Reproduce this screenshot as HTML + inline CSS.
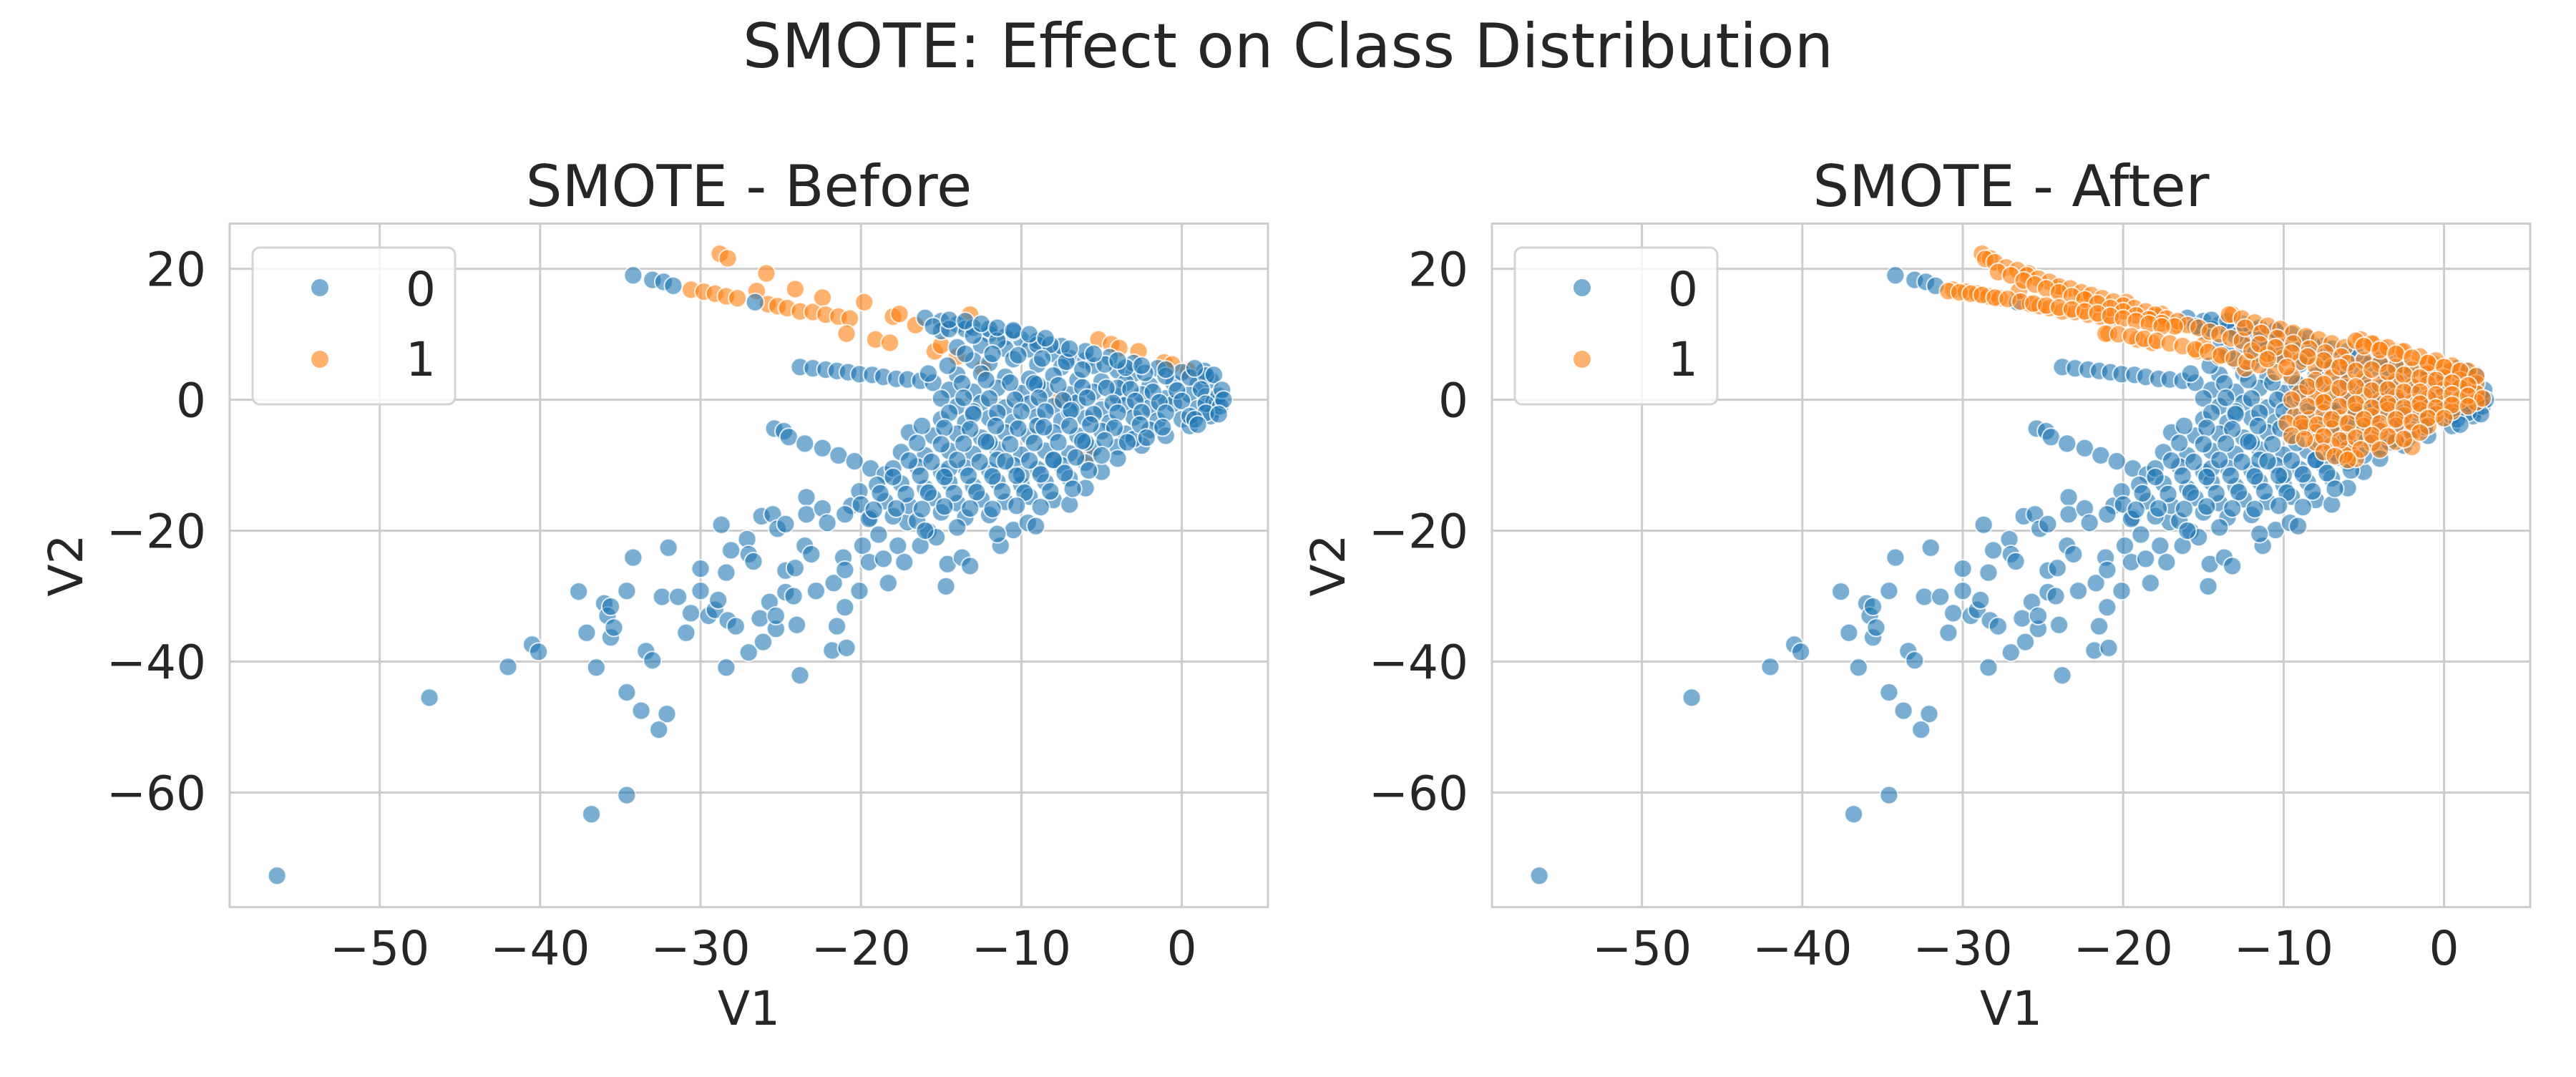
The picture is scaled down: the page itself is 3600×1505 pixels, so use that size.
<!DOCTYPE html>
<html><head><meta charset="utf-8"><style>
html,body{margin:0;padding:0;background:#fff}
svg text{font-family:"DejaVu Sans","Liberation Sans",sans-serif;fill:#262626}
</style></head><body>
<svg id="fig" width="3600" height="1500" viewBox="0 0 3600 1500" xmlns="http://www.w3.org/2000/svg">
<rect width="3600" height="1500" fill="#fff"/>
<text x="1800" y="94" font-size="86" text-anchor="middle">SMOTE: Effect on Class Distribution</text>
</svg>
<script>
// ---- data (V1, V2) ----
const xTicks = [-50, -40, -30, -20, -10, 0];
const yTicks = [20, 0, -20, -40, -60];
const xTickLabels = ["−50", "−40", "−30", "−20", "−10", "0"];
const yTickLabels = ["20", "0", "−20", "−40", "−60"];
const legendLabels = ["0", "1"];

const class0 = [
[-56.4,-72.7],[-46.9,-45.5],[-42.0,-40.8],[-40.5,-37.4],[-40.1,-38.5],[-36.8,-63.3],[-34.6,-60.4],
[-37.6,-29.3],[-37.1,-35.6],[-36.5,-40.9],[-36,-31.1],[-35.8,-33],[-35.6,-36.3],[-35.4,-34.8],[-35.6,-31.6],
[-34.6,-29.2],[-34.2,-24.1],[-34.6,-44.7],[-33.7,-47.5],[-32.1,-48],[-32.6,-50.4],[-33.4,-38.4],[-33,-39.8],
[-32,-22.6],[-32.4,-30.1],[-31.4,-30.1],[-30.9,-35.6],[-30.6,-32.6],[-30,-25.8],[-30,-29.2],[-29.5,-33],[-29.1,-32.1],[-28.9,-30.6],
[-28.7,-19.1],[-28.4,-26.4],[-28.1,-23],[-28.3,-33.7],[-27.8,-34.6],[-28.4,-40.9],[-27.1,-21.3],[-27,-23.6],[-26.7,-24.7],[-27,-38.6],[-26.1,-37],
[-26.3,-33.4],[-25.7,-30.9],[-25.3,-35],[-25.3,-33],[-26.2,-17.8],[-25.5,-17.5],[-25.2,-19.7],[-24.7,-19],
[-24.7,-26.1],[-24.7,-29.4],[-24.2,-30],[-24,-34.4],[-23.8,-42.1],[-24.1,-25.7],[-23.4,-14.9],[-23.4,-17.5],[-23.5,-22.3],[-23.1,-23.6],[-22.8,-29.2],
[-22.4,-16.6],[-22.1,-18.8],[-21.7,-28],[-21.5,-34.6],[-21.8,-38.3],[-20.9,-37.9],[-21,-31.7],[-21.1,-24.1],[-21,-26],[-20.6,-16.2],[-20.1,-14],
[-20.1,-29.2],[-19.9,-22.3],[-19.5,-24.8],[-19.4,-18],[-18.9,-20.6],[-18.3,-28],[-18.6,-24.3],[-17.7,-22.3],[-17.3,-24.8],[-17.1,-18.7],
[-16.3,-22.3],[-15.8,-20.1],[-15.3,-21],[-14.6,-25.1],[-14.7,-28.5],[-13.7,-24.1],[-13.2,-25.4],[-11.3,-22.3],[-10.5,-19.9],[-9.6,-18.8],[-9.1,-19.3],
[-25.4,-4.4],[-24.8,-4.8],[-24.5,-5.7],[-23.5,-6.7],[-22.4,-7.4],[-21.4,-8.5],[-20.4,-9.4],[-19.4,-10.5],[-18.5,-11.4],
[-23.8,5],[-23,4.8],[-22.2,4.6],[-21.5,4.4],[-20.8,4.2],[-20.1,3.9],[-19.3,3.8],[-18.6,3.5],[-17.8,3.2],[-17.1,3.1],[-16.3,2.9],[-15.5,2.6],
[-34.2,19],[-33,18.3],[-32.3,18],[-31.7,17.4],[-26.6,14.9],
[-16,12.5],[-15,12],[-14,11.5],[-15,10.5],[-13.5,10.8],[-12,10],[-11,9.6],[-10,9.2],
[-14,8],[-12.5,8.3],[-11,7.8],[-9.5,7.7],[-8,7],[-7,6.4],[-6,6],
[-13,6],[-12,5.6],[-10.5,6.2],[-9,5.4],[-7.5,5],[-5.5,5.2],[-4,4.5],[-3,4],
[-14,3.8],[-12.5,4],[-11,3.5],[-9.5,3.2],[-8,3.7],[-6.5,3],[-5,2.8],[-3.5,2.6],[-2,2.2],[-0.5,2.5],[1,2.4],[1.8,3],
[-14.5,1.5],[-13,1.2],[-11.5,1.8],[-10,1],[-8.5,1.5],[-7,0.8],[-5.5,1.2],[-4,0.5],[-2.5,0.8],[-1,0.2],[0.5,0.8],[1.5,0.5],[2,-0.3],
[-14,-1],[-12.5,-0.5],[-11,-1.2],[-9.5,-0.6],[-8,-1],[-6.5,-0.4],[-5,-1.5],[-3.5,-0.8],[-2,-1.2],[-0.5,-0.6],[1,-1.3],[2,-1.5],
[-15,-3],[-13.5,-3.5],[-12,-2.8],[-10.5,-3.4],[-9,-2.6],[-7.5,-3.2],[-6,-2.8],[-4.5,-3.5],[-3,-2.7],[-1.5,-3.2],[0,-3],
[-17,-5],[-15.5,-5.5],[-14,-5.2],[-12.5,-5.8],[-11,-5],[-9.5,-5.6],[-8,-5],[-6.5,-5.5],[-5,-4.8],[-3.5,-5.2],[-2,-4.6],
[-17.5,-8],[-16,-8.5],[-14.5,-7.8],[-13,-8.3],[-11.5,-7.6],[-10,-8.4],[-8.5,-7.8],[-7,-8.2],[-5.5,-7.4],[-4,-7.2],
[-18,-10.5],[-16.5,-10.2],[-15,-11],[-13.5,-10.4],[-12,-10.8],[-10.5,-10],[-9,-10.6],[-7.5,-10],[-6,-9.6],
[-19,-13],[-17.5,-12.8],[-16,-13.5],[-14.5,-12.6],[-13,-13.2],[-11.5,-12.5],[-10,-13],[-8.5,-12.6],[-7,-12],
[-20,-16],[-18.5,-15.5],[-17,-16.2],[-15.5,-15],[-14,-15.8],[-12.5,-15.2],[-11,-15.6],[-9.5,-14.8],[-8,-15.3],[-7,-16],
[-21,-17.5],[-19.5,-18.2],[-18,-17.8],[-16.5,-18.5],[-15,-17.2],[-13.5,-18],[-12,-17.6],[-11.5,-20.5],[-16,-20],[-14,-19.5],
[-13,11],[-12,10.8],[-10.5,10.4],[-9,9],[-7.5,8.2],[-6,7.4],[-4.5,6.5],[-3,5.6],[-1.5,4.8],[0,4.2],[1.4,4.4],
[2.2,-0.5],[2.3,0.6],[1.8,-2.5],[0.5,-4],[-1,-5.5],[-2.5,-7],[-4,-9],[-5,-11],[-6,-13.5],
[-12,-6.5],[-9,-4],[-6,-6.5],[-3,-6],[-10,-11.5],[-13,-1.8],[-7,-1.8],[-4,1.8],[-9,2.3],[-11.5,-9.2],[-8,-9.2],[-14.5,-10.5],
[-15.5,11.2],[-14.5,10.8],[-13,9.8],[-11.5,9],[-9,8.4],[-8.2,8.4],
[-13.5,7],[-11.8,7],[-10.2,6.8],[-8.7,6.3],[-7.2,5.8],[-6.2,4.6],[-4.8,5.4],[-3.5,4.9],[-2.3,4.1],[-1,3.6],[0.5,3.4],[1.5,3.7],
[-14.6,5.2],[-15.8,4],
[-13.7,2.5],[-12.2,3],[-10.7,2.6],[-9.2,2.5],[-7.7,2.2],[-6.2,1.9],[-4.7,1.8],[-3.2,1.6],[-1.8,1.2],[-0.3,1.4],[1.2,1.6],
[-15,0.2],[-13.6,0.3],[-12,0.2],[-10.4,0],[-8.9,0.3],[-7.4,-0.1],[-5.9,0.3],[-4.3,-0.5],[-2.9,-0.2],[-1.4,-0.4],[0,-0.2],[1.5,-0.6],[2.4,-1],
[-14.5,-2],[-13,-2.2],[-11.5,-2],[-10,-1.8],[-8.5,-1.8],[-6.9,-1.6],[-5.5,-2.2],[-4,-2],[-2.5,-1.9],[-1,-2],[0.5,-2.5],[1.5,-2],
[-16.2,-4],[-14.8,-4.3],[-13.2,-4.5],[-11.6,-4],[-10.2,-4.4],[-8.6,-4.2],[-7,-4],[-5.7,-3.8],[-4.2,-4.3],[-2.6,-3.8],[-1.2,-4.2],[0.8,-3],
[-16.5,-6.6],[-15,-6.8],[-13.6,-6.7],[-12.2,-6.4],[-10.7,-6.8],[-9.2,-6.6],[-7.7,-6.5],[-6.2,-6.3],[-4.8,-6.2],[-3.4,-6.5],[-2.2,-5.8],
[-17,-9.3],[-15.6,-9.5],[-14,-9.2],[-12.6,-9.5],[-11,-9.4],[-9.5,-9.3],[-8,-9.2],[-6.6,-8.8],[-5,-8.5],
[-18,-11.8],[-16.3,-11.6],[-14.8,-11.8],[-13.3,-11.6],[-11.8,-11.7],[-10.3,-11.6],[-8.8,-11.4],[-7.3,-11.2],[-5.8,-10.8],
[-18.8,-14.3],[-17.2,-14.4],[-15.8,-14.2],[-14.2,-14.3],[-12.8,-14.1],[-11.2,-14],[-9.8,-14.2],[-8.2,-14],[-6.8,-13.6],
[-19.2,-16.8],[-17.8,-16.6],[-16.2,-16.7],[-14.8,-16.3],[-13.2,-16.6],[-11.8,-16.7],[-10.3,-16.2],[-8.8,-16.4],
[-14.5,12.2],[-13.5,12],[-12.5,11.6],[-11.5,11],[-10.5,10.6],[-9.5,10],[-8.5,9.4],[-7,7.8],[-5.5,7],[-4,6],[-2.5,5.2],[-1,4.6],[0.8,4.8],[2,3.8],[2.5,1.5],[2.6,0],[2.3,-2.2],[1,-3.8]
];

const class1Before = [
[-28.8,22.3],[-28.3,21.6],[-25.9,19.3],[-30.6,16.8],[-29.8,16.5],[-29.1,16.2],[-28.4,15.8],[-27.7,15.5],[-26.5,16.6],
[-25.8,14.6],[-25.2,14.3],[-24.6,14],[-24.1,16.9],[-23.8,13.5],[-23,13.4],[-22.4,15.6],[-22.2,13],[-21.4,12.7],[-20.7,12.4],
[-19.8,14.9],[-20.9,10.1],[-19.1,9.2],[-18.2,8.7],[-18,12.7],[-17.6,13.1],[-16.6,11.4],[-15.4,7.4],[-15,8.3],[-13.2,13],
[-14,6.6],[-5.2,9.2],[-4.4,8.5],[-3.9,7.9],[-2.7,7.4],[-1.1,5.7],[-0.6,5.4],[0.4,4.4],[-7.6,0],[-5.8,-8.3],[-12.4,4.8]
];

const class1Synthetic = [
[-28.6,21.5],[-28,21],[-27.3,20.2],[-26.6,19.8],[-26,19],[-25.3,18.5],[-24.6,18],[-24,17.3],[-23.3,17],[-22.6,16.4],[-22,16],
[-21.3,15.5],[-20.6,15],[-20,14.4],[-19.3,14],[-18.6,13.5],[-18,13],[-17.3,12.4],[-16.6,12],[-16,11.4],[-15.3,11],[-14.6,10.4],
[-14,10],[-13.3,9.4],[-12.6,9],
[-27.8,19.5],[-27,19],[-26.2,18.2],[-25.5,17.6],[-24.8,17],[-24,16.4],[-23.2,15.8],[-22.4,15.3],[-21.6,14.7],[-20.8,14],[-20,13.5],
[-19.2,12.9],[-18.4,12.3],[-17.6,11.7],[-16.8,11.2],
[-30.9,16.6],[-30.2,16.4],[-29.5,16.2],[-28.8,16],[-28,15.6],[-27.2,15.4],[-26.4,15],[-25.6,14.7],[-24.8,14.4],[-24,14.1],
[-23.2,13.8],[-22.4,13.5],[-21.6,13.2],[-20.8,12.8],[-20,12.4],[-19.2,12],[-18.4,11.6],[-17.6,11.2],
[-21.1,10.1],[-20.3,10],[-19.5,9.7],[-18.7,9.3],[-17.9,9],[-17.1,8.6],[-16.3,8.2],[-15.5,7.7],[-14.7,7.3],[-13.9,6.8],[-13.1,6.3],[-12.3,5.8],[-11.5,5.3],
[-13.4,13],[-12.6,12.4],[-11.8,11.8],[-11,11.3],[-10.2,10.8],[-9.4,10.2],[-8.6,9.7],[-7.8,9.2],[-7,8.6],[-6.2,8],
[-12.4,11],[-11.4,10.2],[-10.4,9.4],[-9.4,8.6],[-8.4,7.8],[-7.4,7.2],[-6.4,6.6],
[-12,7.5],[-11,7],[-10,6.4],[-9,5.8],[-8,5.2],[-10.5,4.2],[-9.5,3.6],
[-5.5,9],[-4.5,8.6],[-3.5,8],[-2.5,7.4],[-1.5,6.6],[-0.5,6],[0.5,5.2],[1.5,4.4],
[-7,5],[-6,5.6],[-5,6],[-4,5.5],[-3,5],[-2,4.6],[-1,4],[0,3.4],[1,3],[2,2.5],
[-8,3],[-7,3.4],[-6,2.6],[-5,3.2],[-4,2.4],[-3,2.8],[-2,2],[-1,2.4],[0,1.6],[1,1.8],[2,1],
[-9,1],[-8,0.4],[-7,1],[-6,0],[-5,0.6],[-4,-0.2],[-3,0.4],[-2,-0.4],[-1,0.2],[0,-0.6],[1,0],[2,-0.4],
[-9.3,-2.5],[-8.4,-3],[-7.5,-2],[-6.5,-2.8],[-5.5,-1.8],[-4.5,-2.6],[-3.5,-1.6],[-2.5,-2.4],[-1.5,-1.6],[-0.5,-2.2],[0.5,-1.8],
[-8.8,-4.2],[-8,-5],[-7,-4.4],[-6,-5.2],[-5,-4],[-4,-4.8],[-3,-4],[-2,-5],[-1,-4],
[-8,-6.5],[-7,-7],[-6,-7.5],[-5.5,-9],[-4.5,-6.6],[-3,-6.4],[-2,-7.2],[-6.2,-8.4],
[-5,8.2],[-4,7.6],[-3,7],[-2,6.4],[-1,5.6],[0,5],[1,4.4],[2,3.6],
[-7.5,6],[-6.5,5],[-5.5,4.4],[-4.5,4.6],[-3.5,4.2],[-2.5,3.8],[-1.5,3.4],[-0.5,3],[0.5,2.6],[1.5,2.2],
[-8.5,2],[-7.5,2.4],[-6.5,1.8],[-5.5,2],[-4.5,1.4],[-3.5,1.6],[-2.5,1.2],[-1.5,1.2],[-0.5,0.8],[0.5,0.8],[1.5,0.6],[2.4,0.2],
[-9.5,0],[-8.5,-1],[-7.5,-0.4],[-6.5,-1],[-5.5,-0.6],[-4.5,-1.2],[-3.5,-0.6],[-2.5,-1.2],[-1.5,-0.6],[-0.5,-1.2],[0.5,-0.8],[1.5,-1],
[-9.8,-3.6],[-8.9,-3.6],[-7.9,-3.8],[-7,-3],[-6,-3.6],[-5,-3],[-4,-3.6],[-3,-3],[-2,-3.4],[-1,-2.8],[0,-2.8],
[-9.5,-5.5],[-8.7,-6],[-7.5,-5.6],[-6.5,-6.2],[-5.5,-5.8],[-4.5,-5.4],[-3.5,-5.6],[-2.5,-6],[-1.5,-5],
[-7.5,-8],[-6.8,-8.6],[-5.2,-7.6],[-4,-7.6],[-6,-9.2],
[-11.5,8.5],[-10.5,8],[-9.5,7.2],[-8.5,6.6],[-9.8,5],[-11,6.2]
];

// ---- layout ----
const NS = "http://www.w3.org/2000/svg";
const svg = document.getElementById("fig");
const X_MIN = -59.35, X_MAX = 5.37, Y_MIN = -77.5, Y_MAX = 26.9;
const TOP = 312.5, BOTTOM = 1267.6;
const BLUE = "#1f77b4", ORANGE = "#ff7f0e";

function mk(tag, attrs, parent) {
  const e = document.createElementNS(NS, tag);
  for (const k in attrs) e.setAttribute(k, attrs[k]);
  (parent || svg).appendChild(e);
  return e;
}

function panel(left, right, title, layers, key) {
  const g = mk("g", {});
  
  
  const sx = v => left + (v - X_MIN) / (X_MAX - X_MIN) * (right - left);
  const sy = v => TOP + (Y_MAX - v) / (Y_MAX - Y_MIN) * (BOTTOM - TOP);

  xTicks.forEach((t, i) => {
    const l = mk("line", {x1: sx(t), x2: sx(t), y1: TOP, y2: BOTTOM, stroke: "#cccccc", "stroke-width": 3}, g);
    
    
    const tx = mk("text", {x: sx(t), y: 1348, "font-size": 66, "text-anchor": "middle"}, g);
    
    
    tx.textContent = xTickLabels[i];
  });
  yTicks.forEach((t, i) => {
    const l = mk("line", {x1: left, x2: right, y1: sy(t), y2: sy(t), stroke: "#cccccc", "stroke-width": 3}, g);
    
    
    const tx = mk("text", {x: left - 33, y: sy(t) + 24, "font-size": 66, "text-anchor": "end"}, g);
    
    
    tx.textContent = yTickLabels[i];
  });

  const pts = mk("g", {}, g);
  
  
  layers.forEach(([data, color, cls]) => {
    data.forEach(p => {
      const c = mk("circle", {cx: sx(p[0]), cy: sy(p[1]), r: 12.5, fill: color, "fill-opacity": 0.6, stroke: "#ffffff", "stroke-width": 2, "stroke-opacity": 0.8}, pts);
      
      
    });
  });

  const fr = mk("rect", {x: left, y: TOP, width: right - left, height: BOTTOM - TOP, fill: "none", stroke: "#cccccc", "stroke-width": 3}, g);
  
  

  const cx = (left + right) / 2;
  const t = mk("text", {x: cx, y: 288, "font-size": 80, "text-anchor": "middle"}, g);
  
  
  t.textContent = title;
  const xl = mk("text", {x: cx, y: 1432, "font-size": 66, "text-anchor": "middle"}, g);
  
  
  xl.textContent = "V1";
  const yx = left - 206, yc = (TOP + BOTTOM) / 2;
  const yl = mk("text", {x: yx, y: yc, "font-size": 66, "text-anchor": "middle", transform: `rotate(-90 ${yx} ${yc})`}, g);
  
  
  yl.textContent = "V2";

  const lg = mk("g", {}, g);
  
  
  const lx = left + 32;
  mk("rect", {x: lx, y: 346, width: 283, height: 219, rx: 10, fill: "#ffffff", "fill-opacity": 0.8, stroke: "#d4d4d4", "stroke-width": 3}, lg);
  [[BLUE, 402, 427], [ORANGE, 502, 525]].forEach((e, i) => {
    const ent = mk("g", {}, lg);
    
    
    mk("circle", {cx: lx + 94, cy: e[1], r: 12, fill: e[0], "fill-opacity": 0.6}, ent);
    const tt = mk("text", {x: lx + 235, y: e[2], "font-size": 66, "text-anchor": "middle"}, ent);
    tt.textContent = legendLabels[i];
  });
}

panel(321, 1772, "SMOTE - Before", [[class1Before, ORANGE, 1], [class0, BLUE, 0]], "before");
panel(2085, 3536, "SMOTE - After", [[class0, BLUE, 0], [class1Before, ORANGE, 1], [class1Synthetic, ORANGE, 1]], "after");
</script>
</body></html>
